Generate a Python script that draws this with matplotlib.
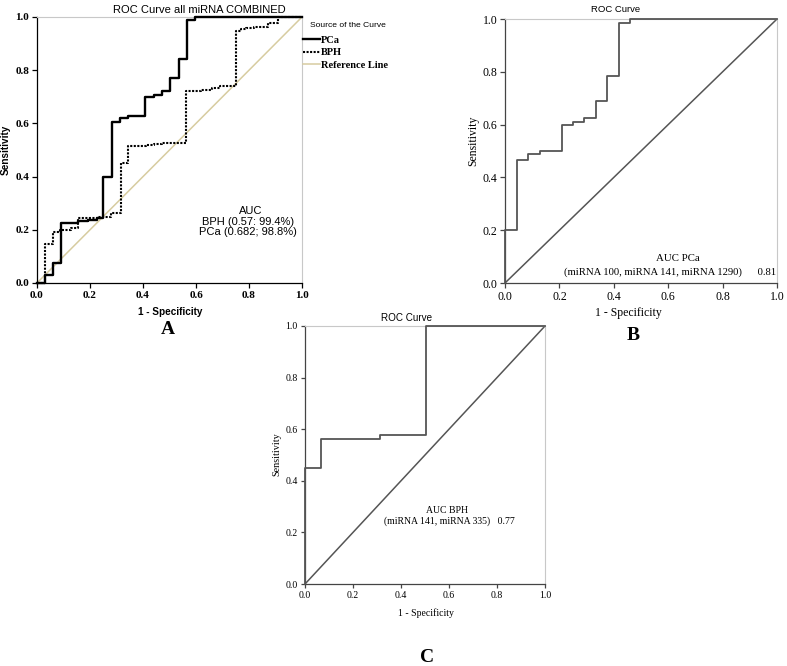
import matplotlib
matplotlib.use("Agg")
import matplotlib.pyplot as plt
from matplotlib.ticker import FormatStrFormatter, MultipleLocator

# ROC points (1 - specificity, sensitivity), drawn as steps
pca_fpr = [0, 0.031, 0.062, 0.091, 0.156, 0.194, 0.225, 0.25, 0.284, 0.313, 0.345,
           0.408, 0.442, 0.47, 0.502, 0.535, 0.565, 0.596, 1.0]
pca_tpr = [0, 0.03, 0.077, 0.224, 0.232, 0.237, 0.244, 0.40, 0.604, 0.619, 0.628,
           0.70, 0.707, 0.72, 0.77, 0.842, 0.988, 1.0, 1.0]

bph_fpr = [0, 0.03, 0.062, 0.087, 0.13, 0.155, 0.23, 0.28, 0.316, 0.345, 0.41, 0.44,
           0.47, 0.562, 0.62, 0.66, 0.69, 0.751, 0.77, 0.79, 0.82, 0.872, 0.91, 1.0]
bph_tpr = [0, 0.147, 0.19, 0.20, 0.205, 0.245, 0.25, 0.262, 0.45, 0.515, 0.518, 0.522,
           0.525, 0.722, 0.727, 0.733, 0.74, 0.947, 0.955, 0.96, 0.963, 0.978, 1.0, 1.0]

pca3_fpr = [0, 0, 0.043, 0.086, 0.128, 0.21, 0.251, 0.29, 0.334, 0.376, 0.419, 0.461, 1.0]
pca3_tpr = [0, 0.2, 0.467, 0.49, 0.50, 0.60, 0.609, 0.624, 0.69, 0.784, 0.985, 1.0, 1.0]

bph2_fpr = [0, 0, 0.065, 0.313, 0.503, 1.0]
bph2_tpr = [0, 0.45, 0.563, 0.577, 1.0, 1.0]

ref = [0, 1]

W, H = 787, 666
SANS = "Liberation Sans"
SERIF = "Liberation Serif"

fig = plt.figure(figsize=(W / 100, H / 100), dpi=100)


def rect(x0, y0, x1, y1):
    return [x0 / W, 1 - y1 / H, (x1 - x0) / W, (y1 - y0) / H]


def ftext(x, y, s, **kw):
    fig.text(x / W, 1 - y / H, s, ha=kw.pop("ha", "center"), va=kw.pop("va", "center"), **kw)


def style_axes(ax, dark, size, weight, tlen):
    ax.set_xlim(0, 1)
    ax.set_ylim(0, 1)
    ax.xaxis.set_major_locator(MultipleLocator(0.2))
    ax.yaxis.set_major_locator(MultipleLocator(0.2))
    ax.xaxis.set_major_formatter(FormatStrFormatter("%.1f"))
    ax.yaxis.set_major_formatter(FormatStrFormatter("%.1f"))
    for s in ["left", "bottom"]:
        ax.spines[s].set_color(dark)
        ax.spines[s].set_linewidth(0.9)
    for s in ["top", "right"]:
        ax.spines[s].set_color("#c8c8c8")
        ax.spines[s].set_linewidth(0.8)
    ax.tick_params(direction="out", length=tlen, width=0.9, color=dark, pad=2,
                   top=False, right=False)
    for lab in ax.get_xticklabels() + ax.get_yticklabels():
        lab.set_fontfamily(SERIF)
        lab.set_fontsize(size)
        lab.set_fontweight(weight)


# ---- Panel A ----
axA = fig.add_axes(rect(37, 17, 302, 283))
style_axes(axA, "black", 8, "bold", 3.6)
l1, = axA.step(pca_fpr, pca_tpr, where="post", color="black", lw=1.7, clip_on=False,
               label="PCa", zorder=3)
l2, = axA.step(bph_fpr, bph_tpr, where="post", color="black", lw=1.5,
               linestyle=(0, (1, 0.7)), clip_on=False, label="BPH", zorder=3)
l3, = axA.plot(ref, ref, color="#d7cca0", lw=1.1, label="Reference Line", zorder=2)
axA.legend(handles=[l1, l2, l3], loc="upper left", bbox_to_anchor=(303 / W, 1 - 35.5 / H),
           bbox_transform=fig.transFigure, frameon=False, borderpad=0, borderaxespad=0,
           handlelength=1.6, handletextpad=0.15, labelspacing=0.3,
           prop={"family": SERIF, "weight": "bold", "size": 7.5})
ftext(310, 25.7, "Source of the Curve", ha="left", family=SANS, fontsize=6.1)
ftext(199, 10, "ROC Curve all miRNA COMBINED", family=SANS, fontsize=8)
ftext(170, 312, "1 - Specificity", family=SANS, fontsize=7.2, weight="bold")
ftext(6, 150, "Sensitivity", family=SANS, fontsize=7.2, weight="bold", rotation=90)
ftext(250.5, 211, "AUC", family=SANS, fontsize=8)
ftext(248, 221.7, "BPH (0.57: 99.4%)", family=SANS, fontsize=8)
ftext(248, 232.3, "PCa (0.682; 98.8%)", family=SANS, fontsize=8)
ftext(168, 329, "A", family=SERIF, fontsize=14, weight="bold")

# ---- Panel B ----
axB = fig.add_axes(rect(505, 19, 777, 283))
style_axes(axB, "#444444", 8.5, "normal", 3.6)
axB.step(pca3_fpr, pca3_tpr, where="post", color="#555555", lw=1.3, clip_on=False, zorder=3)
axB.plot(ref, ref, color="#555555", lw=1.1, zorder=2)
ftext(615.7, 10, "ROC Curve", family=SANS, fontsize=6.8)
ftext(628.7, 313, "1 - Specificity", family=SERIF, fontsize=8.5)
ftext(473.3, 140.7, "Sensitivity", family=SERIF, fontsize=8.5, rotation=90)
ftext(678.3, 258.3, "AUC PCa", family=SERIF, fontsize=7.8)
ftext(670.5, 271.7, "(miRNA 100, miRNA 141, miRNA 1290)      0.81", family=SERIF, fontsize=7.7)
ftext(633, 335, "B", family=SERIF, fontsize=14, weight="bold")

# ---- Panel C ----
axC = fig.add_axes(rect(305, 326, 545, 584))
style_axes(axC, "#444444", 7, "normal", 3.2)
axC.step(bph2_fpr, bph2_tpr, where="post", color="#555555", lw=1.3, clip_on=False, zorder=3)
axC.plot(ref, ref, color="#555555", lw=1.1, zorder=2)
ftext(406.7, 317.7, "ROC Curve", family=SANS, fontsize=7.1)
ftext(425.7, 613, "1 - Specificity", family=SERIF, fontsize=7)
ftext(277, 454, "Sensitivity", family=SERIF, fontsize=7.3, rotation=90)
ftext(446.7, 510.7, "AUC BPH", family=SERIF, fontsize=7)
ftext(449.7, 521, "(miRNA 141, miRNA 335)   0.77", family=SERIF, fontsize=7)
ftext(427, 658, "C", family=SERIF, fontsize=14, weight="bold")

fig.savefig("out.png", dpi=100)
